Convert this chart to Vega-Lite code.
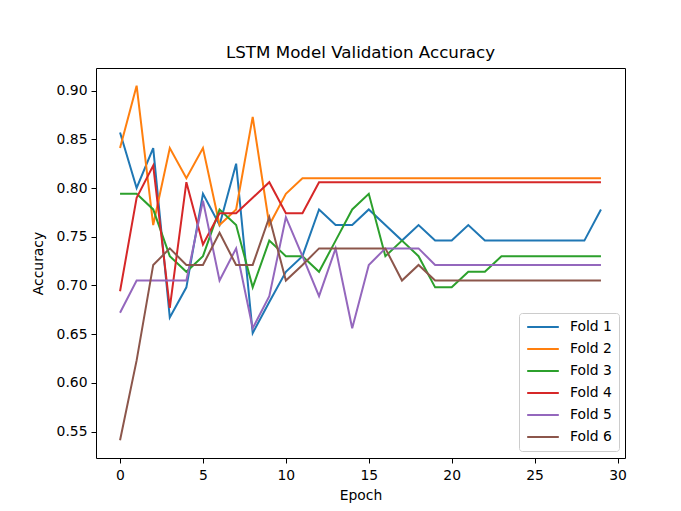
{
  "$schema": "https://vega.github.io/schema/vega-lite/v6.json",
  "autosize": {"type": "none"},
  "padding": {"left": 96, "top": 68, "right": 56, "bottom": 53},
  "width": 529,
  "height": 390,
  "background": "white",
  "title": {"text": "LSTM Model Validation Accuracy", "font": "DejaVu Sans", "fontSize": 16.7, "fontWeight": "normal", "color": "black", "offset": 6, "anchor": "middle"},
  "config": {
    "view": {"stroke": "black", "strokeWidth": 1},
    "axis": {"grid": false, "domain": false, "tickColor": "black", "tickSize": 5, "labelFont": "DejaVu Sans", "labelFontSize": 13.9, "labelColor": "black", "titleFont": "DejaVu Sans", "titleFontSize": 13.9, "titleFontWeight": "normal", "titleColor": "black"}
  },
  "datasets": {
    "acc": [
      {"fold":"Fold 1","epoch":0,"acc":0.857},{"fold":"Fold 1","epoch":1,"acc":0.800},{"fold":"Fold 1","epoch":2,"acc":0.841},{"fold":"Fold 1","epoch":3,"acc":0.667},{"fold":"Fold 1","epoch":4,"acc":0.698},{"fold":"Fold 1","epoch":5,"acc":0.794},{"fold":"Fold 1","epoch":6,"acc":0.762},{"fold":"Fold 1","epoch":7,"acc":0.825},{"fold":"Fold 1","epoch":8,"acc":0.651},{"fold":"Fold 1","epoch":9,"acc":0.683},
      {"fold":"Fold 1","epoch":10,"acc":0.714},{"fold":"Fold 1","epoch":11,"acc":0.730},{"fold":"Fold 1","epoch":12,"acc":0.778},{"fold":"Fold 1","epoch":13,"acc":0.762},{"fold":"Fold 1","epoch":14,"acc":0.762},{"fold":"Fold 1","epoch":15,"acc":0.778},{"fold":"Fold 1","epoch":16,"acc":0.762},{"fold":"Fold 1","epoch":17,"acc":0.746},{"fold":"Fold 1","epoch":18,"acc":0.762},{"fold":"Fold 1","epoch":19,"acc":0.746},
      {"fold":"Fold 1","epoch":20,"acc":0.746},{"fold":"Fold 1","epoch":21,"acc":0.762},{"fold":"Fold 1","epoch":22,"acc":0.746},{"fold":"Fold 1","epoch":23,"acc":0.746},{"fold":"Fold 1","epoch":24,"acc":0.746},{"fold":"Fold 1","epoch":25,"acc":0.746},{"fold":"Fold 1","epoch":26,"acc":0.746},{"fold":"Fold 1","epoch":27,"acc":0.746},{"fold":"Fold 1","epoch":28,"acc":0.746},{"fold":"Fold 1","epoch":29,"acc":0.778},
      {"fold":"Fold 2","epoch":0,"acc":0.841},{"fold":"Fold 2","epoch":1,"acc":0.905},{"fold":"Fold 2","epoch":2,"acc":0.762},{"fold":"Fold 2","epoch":3,"acc":0.841},{"fold":"Fold 2","epoch":4,"acc":0.810},{"fold":"Fold 2","epoch":5,"acc":0.841},{"fold":"Fold 2","epoch":6,"acc":0.762},{"fold":"Fold 2","epoch":7,"acc":0.778},{"fold":"Fold 2","epoch":8,"acc":0.873},{"fold":"Fold 2","epoch":9,"acc":0.762},
      {"fold":"Fold 2","epoch":10,"acc":0.794},{"fold":"Fold 2","epoch":11,"acc":0.810},{"fold":"Fold 2","epoch":12,"acc":0.810},{"fold":"Fold 2","epoch":13,"acc":0.810},{"fold":"Fold 2","epoch":14,"acc":0.810},{"fold":"Fold 2","epoch":15,"acc":0.810},{"fold":"Fold 2","epoch":16,"acc":0.810},{"fold":"Fold 2","epoch":17,"acc":0.810},{"fold":"Fold 2","epoch":18,"acc":0.810},{"fold":"Fold 2","epoch":19,"acc":0.810},
      {"fold":"Fold 2","epoch":20,"acc":0.810},{"fold":"Fold 2","epoch":21,"acc":0.810},{"fold":"Fold 2","epoch":22,"acc":0.810},{"fold":"Fold 2","epoch":23,"acc":0.810},{"fold":"Fold 2","epoch":24,"acc":0.810},{"fold":"Fold 2","epoch":25,"acc":0.810},{"fold":"Fold 2","epoch":26,"acc":0.810},{"fold":"Fold 2","epoch":27,"acc":0.810},{"fold":"Fold 2","epoch":28,"acc":0.810},{"fold":"Fold 2","epoch":29,"acc":0.810},
      {"fold":"Fold 3","epoch":0,"acc":0.794},{"fold":"Fold 3","epoch":1,"acc":0.794},{"fold":"Fold 3","epoch":2,"acc":0.778},{"fold":"Fold 3","epoch":3,"acc":0.730},{"fold":"Fold 3","epoch":4,"acc":0.714},{"fold":"Fold 3","epoch":5,"acc":0.730},{"fold":"Fold 3","epoch":6,"acc":0.778},{"fold":"Fold 3","epoch":7,"acc":0.762},{"fold":"Fold 3","epoch":8,"acc":0.698},{"fold":"Fold 3","epoch":9,"acc":0.746},
      {"fold":"Fold 3","epoch":10,"acc":0.730},{"fold":"Fold 3","epoch":11,"acc":0.730},{"fold":"Fold 3","epoch":12,"acc":0.714},{"fold":"Fold 3","epoch":13,"acc":0.746},{"fold":"Fold 3","epoch":14,"acc":0.778},{"fold":"Fold 3","epoch":15,"acc":0.794},{"fold":"Fold 3","epoch":16,"acc":0.730},{"fold":"Fold 3","epoch":17,"acc":0.746},{"fold":"Fold 3","epoch":18,"acc":0.730},{"fold":"Fold 3","epoch":19,"acc":0.698},
      {"fold":"Fold 3","epoch":20,"acc":0.698},{"fold":"Fold 3","epoch":21,"acc":0.714},{"fold":"Fold 3","epoch":22,"acc":0.714},{"fold":"Fold 3","epoch":23,"acc":0.730},{"fold":"Fold 3","epoch":24,"acc":0.730},{"fold":"Fold 3","epoch":25,"acc":0.730},{"fold":"Fold 3","epoch":26,"acc":0.730},{"fold":"Fold 3","epoch":27,"acc":0.730},{"fold":"Fold 3","epoch":28,"acc":0.730},{"fold":"Fold 3","epoch":29,"acc":0.730},
      {"fold":"Fold 4","epoch":0,"acc":0.694},{"fold":"Fold 4","epoch":1,"acc":0.790},{"fold":"Fold 4","epoch":2,"acc":0.823},{"fold":"Fold 4","epoch":3,"acc":0.677},{"fold":"Fold 4","epoch":4,"acc":0.806},{"fold":"Fold 4","epoch":5,"acc":0.742},{"fold":"Fold 4","epoch":6,"acc":0.774},{"fold":"Fold 4","epoch":7,"acc":0.774},{"fold":"Fold 4","epoch":8,"acc":0.790},{"fold":"Fold 4","epoch":9,"acc":0.806},
      {"fold":"Fold 4","epoch":10,"acc":0.774},{"fold":"Fold 4","epoch":11,"acc":0.774},{"fold":"Fold 4","epoch":12,"acc":0.806},{"fold":"Fold 4","epoch":13,"acc":0.806},{"fold":"Fold 4","epoch":14,"acc":0.806},{"fold":"Fold 4","epoch":15,"acc":0.806},{"fold":"Fold 4","epoch":16,"acc":0.806},{"fold":"Fold 4","epoch":17,"acc":0.806},{"fold":"Fold 4","epoch":18,"acc":0.806},{"fold":"Fold 4","epoch":19,"acc":0.806},
      {"fold":"Fold 4","epoch":20,"acc":0.806},{"fold":"Fold 4","epoch":21,"acc":0.806},{"fold":"Fold 4","epoch":22,"acc":0.806},{"fold":"Fold 4","epoch":23,"acc":0.806},{"fold":"Fold 4","epoch":24,"acc":0.806},{"fold":"Fold 4","epoch":25,"acc":0.806},{"fold":"Fold 4","epoch":26,"acc":0.806},{"fold":"Fold 4","epoch":27,"acc":0.806},{"fold":"Fold 4","epoch":28,"acc":0.806},{"fold":"Fold 4","epoch":29,"acc":0.806},
      {"fold":"Fold 5","epoch":0,"acc":0.672},{"fold":"Fold 5","epoch":1,"acc":0.705},{"fold":"Fold 5","epoch":2,"acc":0.705},{"fold":"Fold 5","epoch":3,"acc":0.705},{"fold":"Fold 5","epoch":4,"acc":0.705},{"fold":"Fold 5","epoch":5,"acc":0.787},{"fold":"Fold 5","epoch":6,"acc":0.705},{"fold":"Fold 5","epoch":7,"acc":0.738},{"fold":"Fold 5","epoch":8,"acc":0.656},{"fold":"Fold 5","epoch":9,"acc":0.689},
      {"fold":"Fold 5","epoch":10,"acc":0.770},{"fold":"Fold 5","epoch":11,"acc":0.730},{"fold":"Fold 5","epoch":12,"acc":0.689},{"fold":"Fold 5","epoch":13,"acc":0.738},{"fold":"Fold 5","epoch":14,"acc":0.656},{"fold":"Fold 5","epoch":15,"acc":0.721},{"fold":"Fold 5","epoch":16,"acc":0.738},{"fold":"Fold 5","epoch":17,"acc":0.738},{"fold":"Fold 5","epoch":18,"acc":0.738},{"fold":"Fold 5","epoch":19,"acc":0.721},
      {"fold":"Fold 5","epoch":20,"acc":0.721},{"fold":"Fold 5","epoch":21,"acc":0.721},{"fold":"Fold 5","epoch":22,"acc":0.721},{"fold":"Fold 5","epoch":23,"acc":0.721},{"fold":"Fold 5","epoch":24,"acc":0.721},{"fold":"Fold 5","epoch":25,"acc":0.721},{"fold":"Fold 5","epoch":26,"acc":0.721},{"fold":"Fold 5","epoch":27,"acc":0.721},{"fold":"Fold 5","epoch":28,"acc":0.721},{"fold":"Fold 5","epoch":29,"acc":0.721},
      {"fold":"Fold 6","epoch":0,"acc":0.541},{"fold":"Fold 6","epoch":1,"acc":0.623},{"fold":"Fold 6","epoch":2,"acc":0.721},{"fold":"Fold 6","epoch":3,"acc":0.738},{"fold":"Fold 6","epoch":4,"acc":0.721},{"fold":"Fold 6","epoch":5,"acc":0.721},{"fold":"Fold 6","epoch":6,"acc":0.754},{"fold":"Fold 6","epoch":7,"acc":0.721},{"fold":"Fold 6","epoch":8,"acc":0.721},{"fold":"Fold 6","epoch":9,"acc":0.770},
      {"fold":"Fold 6","epoch":10,"acc":0.705},{"fold":"Fold 6","epoch":11,"acc":0.721},{"fold":"Fold 6","epoch":12,"acc":0.738},{"fold":"Fold 6","epoch":13,"acc":0.738},{"fold":"Fold 6","epoch":14,"acc":0.738},{"fold":"Fold 6","epoch":15,"acc":0.738},{"fold":"Fold 6","epoch":16,"acc":0.738},{"fold":"Fold 6","epoch":17,"acc":0.705},{"fold":"Fold 6","epoch":18,"acc":0.721},{"fold":"Fold 6","epoch":19,"acc":0.705},
      {"fold":"Fold 6","epoch":20,"acc":0.705},{"fold":"Fold 6","epoch":21,"acc":0.705},{"fold":"Fold 6","epoch":22,"acc":0.705},{"fold":"Fold 6","epoch":23,"acc":0.705},{"fold":"Fold 6","epoch":24,"acc":0.705},{"fold":"Fold 6","epoch":25,"acc":0.705},{"fold":"Fold 6","epoch":26,"acc":0.705},{"fold":"Fold 6","epoch":27,"acc":0.705},{"fold":"Fold 6","epoch":28,"acc":0.705},{"fold":"Fold 6","epoch":29,"acc":0.705}
    ]
  },
  "data": {"name": "acc"},
  "mark": {"type": "line", "strokeWidth": 2, "interpolate": "linear"},
  "encoding": {
    "x": {"field": "epoch", "type": "quantitative", "title": "Epoch",
      "scale": {"domain": [-1.45, 30.45], "nice": false, "zero": false},
      "axis": {"values": [0, 5, 10, 15, 20, 25, 30], "labelPadding": 5, "titlePadding": 7}},
    "y": {"field": "acc", "type": "quantitative", "title": "Accuracy",
      "scale": {"domain": [0.5228, 0.9232], "nice": false, "zero": false},
      "axis": {"values": [0.55, 0.6, 0.65, 0.7, 0.75, 0.8, 0.85, 0.9], "format": ".2f", "labelPadding": 4, "titlePadding": 11}},
    "color": {"field": "fold", "type": "nominal",
      "scale": {"domain": ["Fold 1", "Fold 2", "Fold 3", "Fold 4", "Fold 5", "Fold 6"], "range": ["#1f77b4", "#ff7f0e", "#2ca02c", "#d62728", "#9467bd", "#8c564b"]},
      "legend": {"title": null, "orient": "none", "legendX": 423, "legendY": 245, "fillColor": "white", "strokeColor": "#cccccc", "cornerRadius": 3, "padding": 7, "symbolType": "stroke", "symbolSize": 1000, "symbolStrokeWidth": 2, "clipHeight": 14, "labelFont": "DejaVu Sans", "labelFontSize": 13.9, "labelColor": "black", "labelOffset": 10, "rowPadding": 8}},
    "order": {"field": "epoch", "type": "quantitative"}
  }
}
